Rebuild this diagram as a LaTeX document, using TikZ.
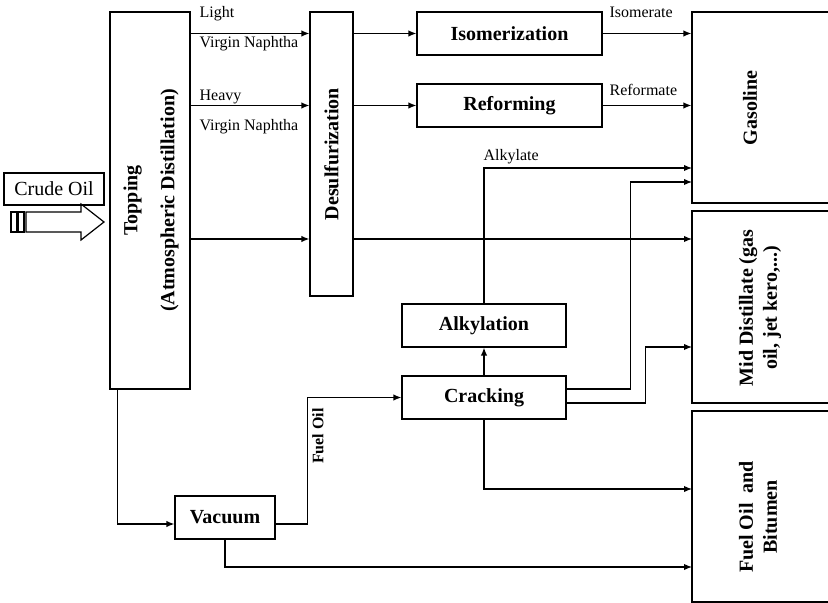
\documentclass[tikz,border=0pt]{standalone}
\usepackage{fontspec}
\setmainfont{Liberation Serif}
\usetikzlibrary{arrows.meta,calc}

\begin{document}
\begin{tikzpicture}[x=0.5pt,y=-0.5pt,>={Latex[length=4pt,width=3.2pt]},
  line width=0.6pt,
  unit/.style={draw,inner sep=0pt,font=\bfseries\fontsize{10}{12}\selectfont},
  vlbl/.style={rotate=90,align=center,font=\bfseries\fontsize{10}{12}\selectfont},
  stream/.style={anchor=base west,inner sep=0pt,font=\fontsize{8}{9.6}\selectfont}]
\useasboundingbox (0,0) rectangle (828,603);
% process units
\node[unit,minimum width=40pt,minimum height=188.5pt] (top) at (150,200.5) {};
\node[vlbl] (toptxt) at (151,200.5) {Topping\\[6.5pt](Atmospheric Distillation)};
\node[unit,minimum width=21.5pt,minimum height=142pt] (desu) at (331.5,154) {};
\node[vlbl] (desutxt) at (desu) {Desulfurization};
\node[unit,minimum width=92.5pt,minimum height=21.5pt] (iso) at (509.5,33.5) {Isomerization};
\node[unit,minimum width=92.5pt,minimum height=21.5pt] (refo) at (509.5,105.5) {Reforming};
\node[unit,minimum width=82pt,minimum height=21.5pt] (alk) at (484,325.5) {Alkylation};
\node[unit,minimum width=82pt,minimum height=21.5pt] (crk) at (484,397.5) {Cracking};
\node[unit,minimum width=50pt,minimum height=21.5pt] (vac) at (225,517.5) {Vacuum};
% products
\node[unit,minimum width=69pt,minimum height=95.5pt] (gas) at (761,107.5) {};
\node[vlbl] (gastxt) at (750,108) {Gasoline};
\node[unit,minimum width=69pt,minimum height=96pt] (mid) at (761,307) {};
\node[vlbl] (midtxt) at (760,308) {Mid Distillate (gas\\oil, jet kero,...)};
\node[unit,minimum width=69pt,minimum height=95.5pt] (fob) at (761,506.5) {};
\node[vlbl] (fobtxt) at (758,517) {Fuel Oil~ and\\Bitumen};
% feed
\node[draw,inner sep=0pt,minimum width=50pt,minimum height=16pt,font=\fontsize{10}{12}\selectfont] (crude) at (54,189) {Crude Oil};
\draw (26,212) -- (81,212) -- (81,204) -- (104,222) -- (81,240) -- (81,232) -- (26,232) -- cycle;
\draw (11,212) rectangle (17,232);
\draw (18,212) rectangle (24,232);
% streams
\coordinate (m1) at (692,239);
\coordinate (g3) at (692,168);
\coordinate (g4) at (692,182);
\coordinate (m2) at (692,347);
\coordinate (f1) at (692,489);
\coordinate (f2) at (692,567);
\draw[->] (top.east |- iso) -- (desu.west |- iso);
\draw[->] (top.east |- refo) -- (desu.west |- refo);
\draw[->] (top.east |- m1) -- (desu.west |- m1);
\draw[->] (desu.east |- iso) -- (iso.west);
\draw[->] (desu.east |- refo) -- (refo.west);
\draw[->] (desu.east |- m1) -- (m1);
\draw[->] (iso.east) -- (gas.west |- iso);
\draw[->] (refo.east) -- (gas.west |- refo);
\draw[->] (alk.north) |- (g3);
\draw[->] (crk.north) -- (alk.south);
\draw[->] ([yshift=4.25pt]crk.east) -- ++(64,0) |- (g4);
\draw[->] ([yshift=-2.75pt]crk.east) -- ++(79,0) |- (m2);
\draw[->] (crk.south) |- (f1);
\draw[->] (vac.south) |- (f2);
\draw[->] ([xshift=4pt]top.south west) |- ([yshift=-3.25pt]vac.west);
\draw[->] ([yshift=-3.25pt]vac.east) -- ++(32,0) |- (crk.west);
% stream labels
\node[stream] (lt) at (199,18) {Light};
\node[stream] (lvn) at (199,48) {Virgin Naphtha};
\node[stream] (hv) at (199,101) {Heavy};
\node[stream] (hvn) at (199,131) {Virgin Naphtha};
\node[stream] (isom) at (609,18) {Isomerate};
\node[stream] (refm) at (609,96) {Reformate};
\node[stream] (alky) at (483,161) {Alkylate};
\node[rotate=90,inner sep=0pt,font=\bfseries\fontsize{8}{9.6}\selectfont] (fuel) at (318,436) {Fuel Oil};
\end{tikzpicture}
\end{document}
